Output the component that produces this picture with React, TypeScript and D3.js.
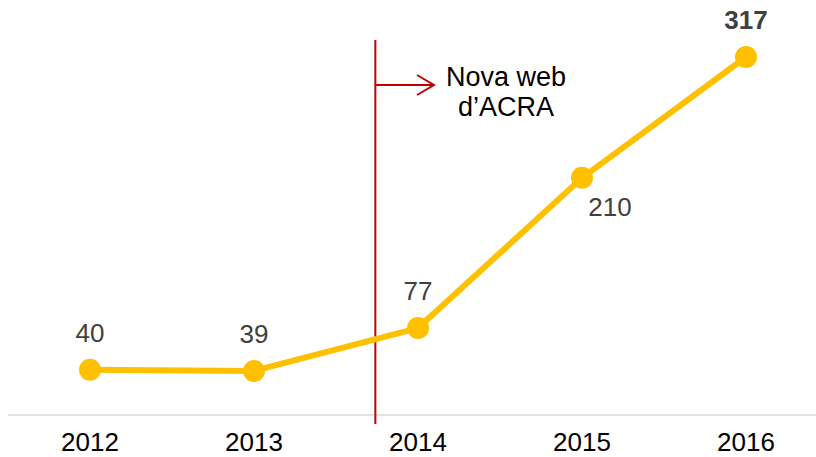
import * as d3 from 'd3'

const years = ['2012', '2013', '2014', '2015', '2016']
const visits = [40, 39, 77, 210, 317]
const noteLines = ['Nova web', 'd\u2019ACRA']

const W = 816
const H = 457

export default function App() {
  const x = d3.scalePoint<string>().domain(years).range([90, 746])
  const y = d3.scaleLinear().domain([0, 317]).range([415, 57])

  const line = d3
    .line<number>()
    .x((_, i) => x(years[i]) as number)
    .y((d) => y(d))

  // marker sits about three quarters of the way from 2013 to 2014
  const markX = (x('2013') as number) + ((x('2014') as number) - (x('2013') as number)) * 0.74
  const font = 'Liberation Sans, Arial, sans-serif'

  // label offsets: most sit above the dot, 210 sits below right
  const labelPos = (d: number, i: number) => {
    const cx = x(years[i]) as number
    const cy = y(d)
    if (i === 3) return { lx: cx + 28, ly: cy + 38 }
    return { lx: cx, ly: cy - 28 }
  }

  return (
    <svg width={W} height={H} style={{ position: 'absolute', left: 0, top: 0 }} fontFamily={font}>
      <line x1={8} x2={W} y1={y(0)} y2={y(0)} stroke="#d9d9d9" strokeWidth={1.5} />

      <line x1={markX} x2={markX} y1={40} y2={424} stroke="#c00000" strokeWidth={2} />
      <line x1={markX} x2={433} y1={85} y2={85} stroke="#c00000" strokeWidth={2} />
      <path d={`M417,75 L434,85 L417,95`} fill="none" stroke="#c00000" strokeWidth={2} />
      {noteLines.map((t, i) => (
        <text key={t} x={506} y={86 + i * 30} textAnchor="middle" fontSize={27} fill="#000">
          {t}
        </text>
      ))}

      <path d={line(visits) || ''} fill="none" stroke="#ffc000" strokeWidth={6} strokeLinejoin="round" />
      {visits.map((d, i) => (
        <circle key={years[i]} cx={x(years[i])} cy={y(d)} r={11} fill="#ffc000" />
      ))}
      {visits.map((d, i) => {
        const { lx, ly } = labelPos(d, i)
        const last = i === visits.length - 1
        return (
          <text
            key={'v' + years[i]}
            x={lx}
            y={ly}
            textAnchor="middle"
            fontSize={26}
            fontWeight={last ? 'bold' : 'normal'}
            fill="#404040"
          >
            {d}
          </text>
        )
      })}

      {years.map((yr) => (
        <text key={yr} x={x(yr)} y={451} textAnchor="middle" fontSize={26} fill="#000">
          {yr}
        </text>
      ))}
    </svg>
  )
}
